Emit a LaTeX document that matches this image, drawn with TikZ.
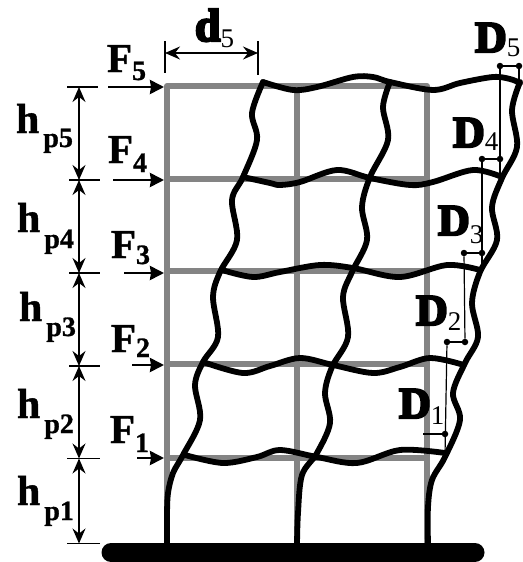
\documentclass[tikz,border=0pt]{standalone}
\usepackage{fontspec}
\usetikzlibrary{arrows.meta}
\setmainfont{Liberation Serif}
\newfontfamily\fatfont{Liberation Serif Bold}[FakeBold=5]
\newfontfamily\boldfont{Liberation Serif Bold}[FakeBold=1]
\definecolor{framegray}{HTML}{848484}
\newcommand{\mylab}[6]{% name, x, y, main text, sub font+text, offset
  \node[lab] (#1) at (#2,#3) {#4\raisebox{-#6pt}{#5}};}
\newcommand{\fF}{\fontsize{41}{41}\boldfont F}
\newcommand{\fh}{\fontsize{42}{42}\boldfont h}
\newcommand{\fD}{\fontsize{44}{44}\fatfont D}
\newcommand{\fd}{\fontsize{46}{46}\fatfont d}
\newcommand{\sF}[1]{\fontsize{28}{28}\boldfont #1}
\newcommand{\sh}[1]{\hspace{4pt}\fontsize{28}{28}\boldfont p#1}
\newcommand{\sD}[1]{\fontsize{27}{27}\normalfont #1}
\tikzset{
  lab/.style={anchor=base west,inner sep=0pt,outer sep=0pt,font=\fontsize{38}{38}\selectfont},
  grayframe/.style={draw=framegray,line width=6pt},
  deformed/.style={draw=black,line width=5.8pt,smooth,tension=0.55,line cap=round},
  force/.style={draw=black,line width=2.8pt,-{Stealth[length=14pt,width=14pt,inset=1pt]},shorten >=1pt},
  dimline/.style={draw=black,line width=1.5pt,{Stealth[length=15pt,width=13pt,inset=5pt]}-{Stealth[length=15pt,width=13pt,inset=5pt]}},
  tick/.style={draw=black,line width=1.3pt},
  thin/.style={draw=black,line width=1.2pt},
  dotend/.style={circle,fill=black,inner sep=0pt,minimum size=6.5pt}
}
\begin{document}
\begin{tikzpicture}[x=1pt,y=-1pt]
\useasboundingbox (0,0) rectangle (522,562);
% grey undeformed frame
\draw[grayframe,line join=round] (167,545) -- (167,86) -- (427,86) -- (427,545);
\draw[grayframe] (297,86) -- (297,545);
\foreach \yy in {179,271,364,458} \draw[grayframe] (167,\yy) -- (427,\yy);
% ground
\draw[line width=19pt,line cap=round] (111,552.5) -- (475,552.5);
% deformed columns
\draw[deformed] plot coordinates {(167,545)(167,515)(168,493)(173,473)(183,455)(200,420)(195,385)(203,362)(218,337)(213,297)(220,272)(237,240)(232,200)(243,177)(257,140)(252,113)(263,82)};
\draw[deformed] plot coordinates {(297,545)(298,513)(302,475)(317,453)(330,423)(325,393)(332,367)(348,337)(343,297)(352,272)(367,240)(362,207)(370,177)(388,140)(383,107)(390,82)};
\draw[deformed] plot coordinates {(428,545)(428,507)(432,480)(445,457)(460,420)(453,393)(465,363)(478,337)(472,303)(480,272)(497,240)(492,207)(502,178)(517,147)(512,110)(520,82)};
% deformed beams
\draw[deformed] plot coordinates {(263,82)(293,90)(317,87)(353,77)(373,77)(390,82)(433,90)(460,83)(493,77)(510,79)(520,83)};
\draw[deformed] plot coordinates {(243,177)(270,183)(280,185)(300,182)(337,170)(370,178)(410,185)(433,182)(473,170)(502,177)};
\draw[deformed] plot coordinates {(222,270)(253,277)(280,272)(320,265)(353,268)(400,277)(447,265)(480,270)};
\draw[deformed] plot coordinates {(203,362)(243,373)(270,366)(300,358)(333,365)(373,373)(400,367)(430,358)(464,365)};
\draw[deformed] plot coordinates {(185,455)(223,463)(257,457)(280,450)(317,457)(357,463)(400,450)(445,453)};
% force arrows
\coordinate (f5a) at (108,87); \coordinate (f5b) at (165,87);
\coordinate (f4a) at (113,180); \coordinate (f4b) at (165,180);
\coordinate (f3a) at (124,273); \coordinate (f3b) at (165,273);
\coordinate (f2a) at (132,365); \coordinate (f2b) at (165,365);
\coordinate (f1a) at (137,458); \coordinate (f1b) at (165,458);
\draw[force] (f5a) -- (f5b);
\draw[force] (f4a) -- (f4b);
\draw[force] (f3a) -- (f3b);
\draw[force] (f2a) -- (f2b);
\draw[force] (f1a) -- (f1b);
% height dimensions
\coordinate (h0) at (79,87); \coordinate (h1) at (79,180); \coordinate (h2) at (79,273);
\coordinate (h3) at (79,366); \coordinate (h4) at (79,458.5); \coordinate (h5) at (79,543.5);
\draw[dimline] (h0) -- (h1);
\draw[dimline] (h1) -- (h2);
\draw[dimline] (h2) -- (h3);
\draw[dimline] (h3) -- (h4);
\draw[dimline] (h4) -- (h5);
\draw[tick] (67,87) -- (98,87);
\draw[tick] (69,180) -- (100,180);
\draw[tick] (69,273) -- (100,273);
\draw[tick] (69,366) -- (100,366);
\draw[tick] (67,458.5) -- (100,458.5);
\draw[tick] (67,543.5) -- (100,543.5);
% span dimension
\coordinate (d0) at (165,53); \coordinate (d1) at (258,53);
\draw[dimline] (d0) -- (d1);
\draw[tick] (165,41) -- (165,73);
\draw[tick] (258,41) -- (258,75);
% drift marks
\node[dotend] (m5a) at (500,66) {}; \node[dotend] (m5b) at (519,66) {};
\node[dotend] (m4a) at (482,159) {}; \node[dotend] (m4b) at (500,159) {};
\node[dotend] (m3a) at (464,253) {}; \node[dotend] (m3b) at (482,253) {};
\node[dotend] (m2a) at (447,342) {}; \node[dotend] (m2b) at (465,342) {};
\coordinate (m1a) at (423,434); \node[dotend] (m1b) at (445,434) {};
\coordinate (e5) at (519,82); \coordinate (e4) at (500,175); \coordinate (e3) at (482,268);
\coordinate (e1) at (445,455);
\draw[thin] (m5a) -- (m5b); \draw[thin] (m5b) -- (e5);
\draw[thin] (m5a) -- (e4);
\draw[thin] (m4a) -- (m4b);
\draw[thin] (m4a) -- (e3);
\draw[thin] (m3a) -- (m3b);
\draw[thin] (m3a) -- (m2b);
\draw[thin] (m2a) -- (m2b);
\draw[thin] (m2a) -- (e1);
\draw[thin] (m1a) -- (m1b);
% labels
\mylab{lF5}{107}{72}{\fF}{\sF{5}}{8}
\mylab{lF4}{108}{163}{\fF}{\sF{4}}{9}
\mylab{lF3}{111}{258}{\fF}{\sF{3}}{6}
\mylab{lF2}{111}{352}{\fF}{\sF{2}}{5}
\mylab{lF1}{110}{443}{\fF}{\sF{1}}{9}
\mylab{lh5}{16}{133}{\fh}{\sh{5}}{14}
\mylab{lh4}{17}{232}{\fh}{\sh{4}}{16}
\mylab{lh3}{19}{321}{\fh}{\sh{3}}{15}
\mylab{lh2}{17}{418}{\fh}{\sh{2}}{15}
\mylab{lh1}{17}{505}{\fh}{\sh{1}}{15}
\mylab{ld5}{195}{41}{\fd}{\sD{5}}{6}
\mylab{lD5}{475}{52}{\fD}{\sD{5}}{5}
\mylab{lD4}{453}{147}{\fD}{\sD{4}}{3}
\mylab{lD3}{438}{235}{\fD}{\sD{3}}{8}
\mylab{lD2}{416}{325}{\fD}{\sD{2}}{5}
\mylab{lD1}{399}{418}{\fD}{\sD{1}}{6}
\end{tikzpicture}
\end{document}
